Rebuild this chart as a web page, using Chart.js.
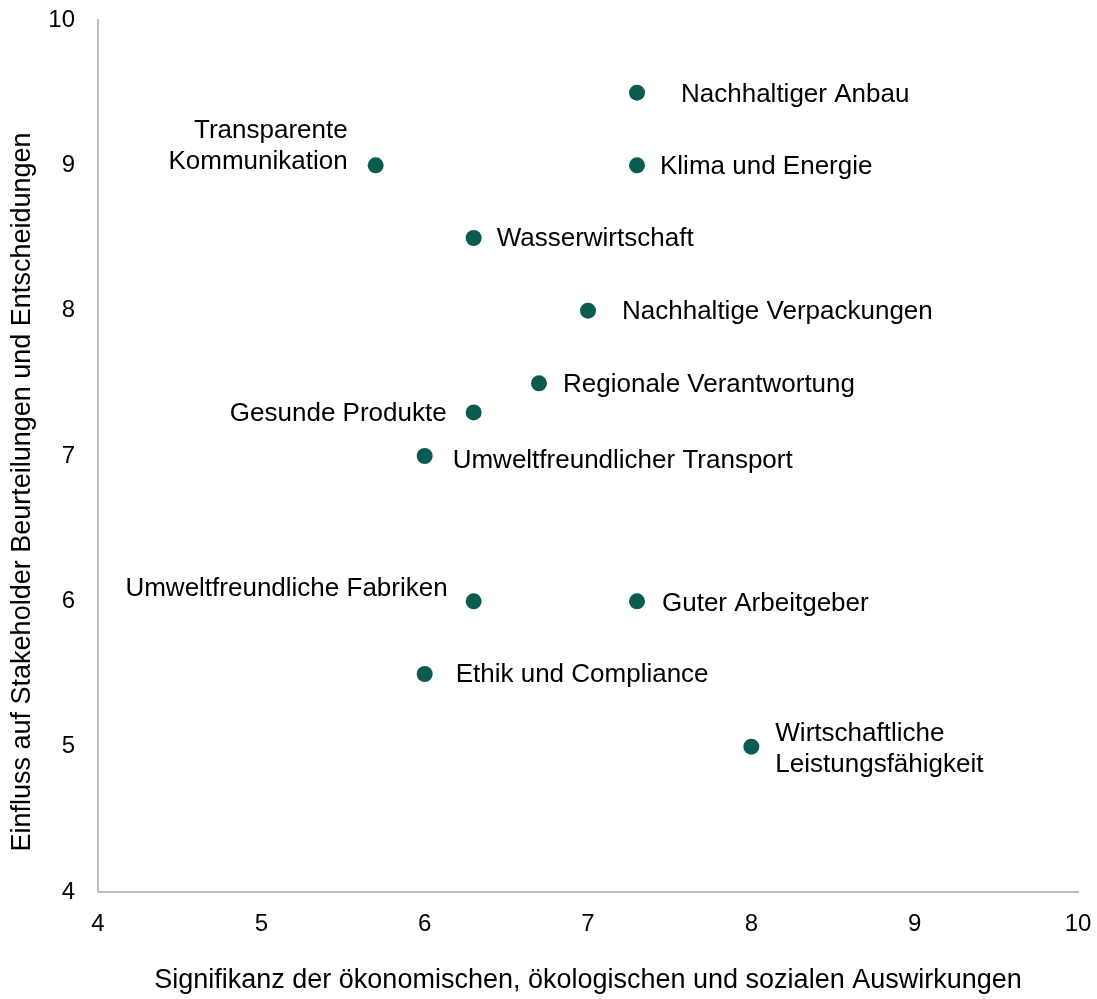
<!DOCTYPE html>
<html>
<head>
<meta charset="utf-8">
<script src="https://cdn.jsdelivr.net/npm/chart.js@4.4.1/dist/chart.umd.min.js"></script>
<style>
  html, body { margin: 0; padding: 0; background: #ffffff; }
  #wrap { width: 1097px; height: 999px; }
</style>
</head>
<body>
<div id="wrap"><canvas id="c"></canvas></div>
<script>
// ---- data ----
const topics = [
  ["Nachhaltiger Anbau"],
  ["Klima und Energie"],
  ["Transparente", "Kommunikation"],
  ["Wasserwirtschaft"],
  ["Nachhaltige Verpackungen"],
  ["Regionale Verantwortung"],
  ["Gesunde Produkte"],
  ["Umweltfreundlicher Transport"],
  ["Umweltfreundliche Fabriken"],
  ["Guter Arbeitgeber"],
  ["Ethik und Compliance"],
  ["Wirtschaftliche", "Leistungsfähigkeit"]
];
const significance = [7.3, 7.3, 5.7, 6.3, 7.0, 6.7, 6.3, 6.0, 6.3, 7.3, 6.0, 8.0];
const influence    = [9.5, 9.0, 9.0, 8.5, 8.0, 7.5, 7.3, 7.0, 6.0, 6.0, 5.5, 5.0];
const xTicks = [4, 5, 6, 7, 8, 9, 10];
const yTicks = [4, 5, 6, 7, 8, 9, 10];
const xTitle = "Signifikanz der ökonomischen, ökologischen und sozialen Auswirkungen";
const yTitle = "Einfluss auf Stakeholder Beurteilungen und Entscheidungen";

// ---- label placement (pixel offsets from each marker) ----
const labelPlacement = [
  { side: "right", dx: 44, dy: 2 },
  { side: "right", dx: 23, dy: 1 },
  { side: "left",  dx: -28, dy: -35 },
  { side: "right", dx: 23, dy: 1 },
  { side: "right", dx: 34, dy: 1 },
  { side: "right", dx: 24, dy: 1 },
  { side: "left",  dx: -27, dy: 1 },
  { side: "right", dx: 28, dy: 5 },
  { side: "left",  dx: -26, dy: -13 },
  { side: "right", dx: 25, dy: 2 },
  { side: "right", dx: 31, dy: 1 },
  { side: "right", dx: 24, dy: -13 }
];

const FONT = "'Liberation Sans', Arial, sans-serif";
const MARK = "#0a5c50";

const points = significance.map((v, i) => ({ x: v, y: influence[i] }));

const labelPlugin = {
  id: "pointLabels",
  afterDatasetsDraw(chart) {
    const meta = chart.getDatasetMeta(0);
    const ctx = chart.ctx;
    ctx.save();
    ctx.font = "26px " + FONT;
    ctx.fillStyle = "#000000";
    ctx.textBaseline = "middle";
    meta.data.forEach((el, i) => {
      const p = labelPlacement[i];
      const lines = topics[i];
      ctx.textAlign = p.side === "left" ? "right" : "left";
      lines.forEach((ln, k) => {
        ctx.fillText(ln, el.x + p.dx, el.y + p.dy + k * 31);
      });
    });
    ctx.restore();
  },
  afterDraw(chart) {
    // y-axis title, placed like the reference (slightly below the axis centre)
    const ctx = chart.ctx;
    const a = chart.chartArea;
    ctx.save();
    ctx.font = "27px " + FONT;
    ctx.fillStyle = "#000000";
    ctx.textAlign = "center";
    ctx.textBaseline = "middle";
    ctx.translate(23, (a.top + a.bottom) / 2 + 36);
    ctx.rotate(-Math.PI / 2);
    ctx.fillText(yTitle, 0, 0);
    ctx.restore();
  }
};

function noPad(scale) {
  scale.paddingLeft = 0; scale.paddingRight = 0;
  scale.paddingTop = 0; scale.paddingBottom = 0;
}

new Chart(document.getElementById("c"), {
  type: "scatter",
  data: {
    datasets: [{
      data: points,
      backgroundColor: MARK,
      borderColor: MARK,
      borderWidth: 0,
      pointRadius: 8,
      pointHoverRadius: 8
    }]
  },
  options: {
    responsive: true,
    maintainAspectRatio: false,
    animation: false,
    events: [],
    layout: { padding: { left: 0, top: 20, right: 19, bottom: 0 } },
    plugins: {
      legend: { display: false },
      tooltip: { enabled: false }
    },
    scales: {
      x: {
        type: "linear",
        min: 4, max: 10,
        afterBuildTicks(scale) { scale.ticks = xTicks.map(v => ({ value: v })); },
        afterFit(scale) { scale.height = 107; noPad(scale); },
        grid: { display: false, drawTicks: false },
        border: { display: true, color: "#bfbfbf", width: 2 },
        ticks: { color: "#000000", padding: 18, font: { family: FONT, size: 24 }, maxRotation: 0 },
        title: { display: true, text: xTitle, color: "#000000",
                 font: { family: FONT, size: 27 }, padding: { top: 0, bottom: 2 } }
      },
      y: {
        type: "linear",
        min: 4, max: 10,
        afterBuildTicks(scale) { scale.ticks = yTicks.map(v => ({ value: v })); },
        afterFit(scale) { scale.width = 98; noPad(scale); },
        grid: { display: false, drawTicks: false },
        border: { display: true, color: "#bfbfbf", width: 2 },
        ticks: { color: "#000000", padding: 23, font: { family: FONT, size: 24 } },
        title: { display: false }
      }
    }
  },
  plugins: [labelPlugin]
});
</script>
</body>
</html>
